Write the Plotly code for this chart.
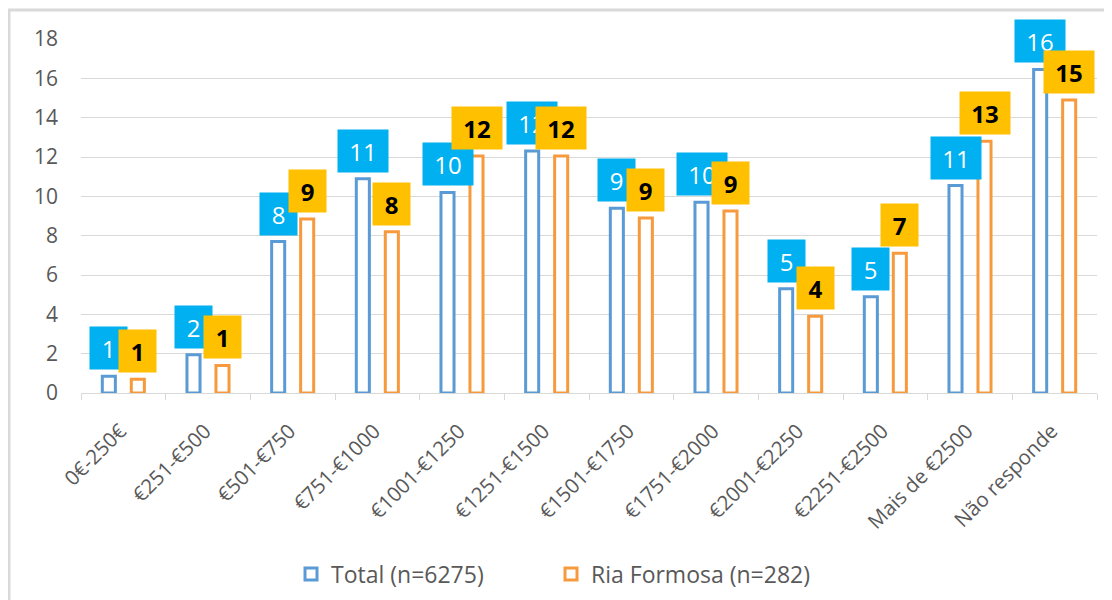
import plotly.graph_objects as go

# categorias de rendimento
categorias = ["0€-250€", "€251-€500", "€501-€750", "€751-€1000", "€1001-€1250",
              "€1251-€1500", "€1501-€1750", "€1751-€2000", "€2001-€2250",
              "€2251-€2500", "Mais de €2500", "Não responde"]

# percentagens
total = [0.85, 1.95, 7.7, 10.9, 10.2, 12.3, 9.4, 9.7, 5.3, 4.9, 10.55, 16.45]
ria_formosa = [0.7, 1.4, 8.85, 8.2, 12.05, 12.05, 8.9, 9.25, 3.9, 7.1, 12.8, 14.9]

nome_total = "Total (n=6275)"
nome_ria = "Ria Formosa (n=282)"

azul = "#5B9BD5"
laranja = "#F79A3D"
caixa_azul = "#00B0F0"
caixa_laranja = "#FFC000"
cinza = "#595959"

fig = go.Figure()

fig.add_trace(go.Bar(
    x=categorias, y=total, name=nome_total,
    marker=dict(color="white", line=dict(color=azul, width=3)),
))
fig.add_trace(go.Bar(
    x=categorias, y=ria_formosa, name=nome_ria,
    marker=dict(color="white", line=dict(color=laranja, width=3)),
))

# rótulos com caixa colorida (primeiro os azuis, depois os laranja por cima)
anotacoes = []
for serie, desloc, fundo, cor_txt, negrito in [
    (total, -14.5, caixa_azul, "white", False),
    (ria_formosa, 14.5, caixa_laranja, "black", True),
]:
    for cat, v in zip(categorias, serie):
        txt = str(int(round(v)))
        anotacoes.append(dict(
            x=cat, y=v, xref="x", yref="y",
            text="<b>" + txt + "</b>" if negrito else txt,
            showarrow=False, xshift=desloc, yshift=6,
            xanchor="center", yanchor="bottom",
            bgcolor=fundo, borderpad=6,
            width=12 + 13 * len(txt), height=30,
            font=dict(family="Open Sans", size=24, color=cor_txt),
        ))

# a página tem 8px de margem no body, por isso a figura fica um pouco menor
fig.update_layout(
    width=1104, height=592,
    paper_bgcolor="white", plot_bgcolor="white",
    margin=dict(l=73, r=15, t=31, b=207, autoexpand=False),
    barmode="group", bargap=0.315, bargroupgap=0.55,
    font=dict(family="Open Sans", size=20, color=cinza),
    annotations=anotacoes,
    showlegend=True,
    legend=dict(
        orientation="h", x=0.2067, y=-0.451, xanchor="left", yanchor="top",
        font=dict(size=23, color=cinza), entrywidth=215,
    ),
    xaxis=dict(
        tickangle=-45, showgrid=False, showline=True, linecolor="#D9D9D9",
        linewidth=1, ticks="outside", tickson="boundaries", ticklen=6,
        tickcolor="#D9D9D9", tickfont=dict(size=20.5, color=cinza),
        automargin=False, ticklabelstandoff=17, ticklabelshift=-3,
    ),
    yaxis=dict(
        range=[0, 18], dtick=2, showgrid=True, gridcolor="#D9D9D9",
        gridwidth=1, zeroline=False, showline=False, ticklabelstandoff=22,
        tickfont=dict(size=21, color=cinza), automargin=False,
    ),
    shapes=[dict(
        type="rect", xref="paper", yref="paper",
        x0=-0.0709, x1=1.1, y0=-0.8, y1=1.082,
        line=dict(color="#D9D9D9", width=3), fillcolor="rgba(0,0,0,0)",
        layer="below",
    )],
)

fig.write_html("out.html")
